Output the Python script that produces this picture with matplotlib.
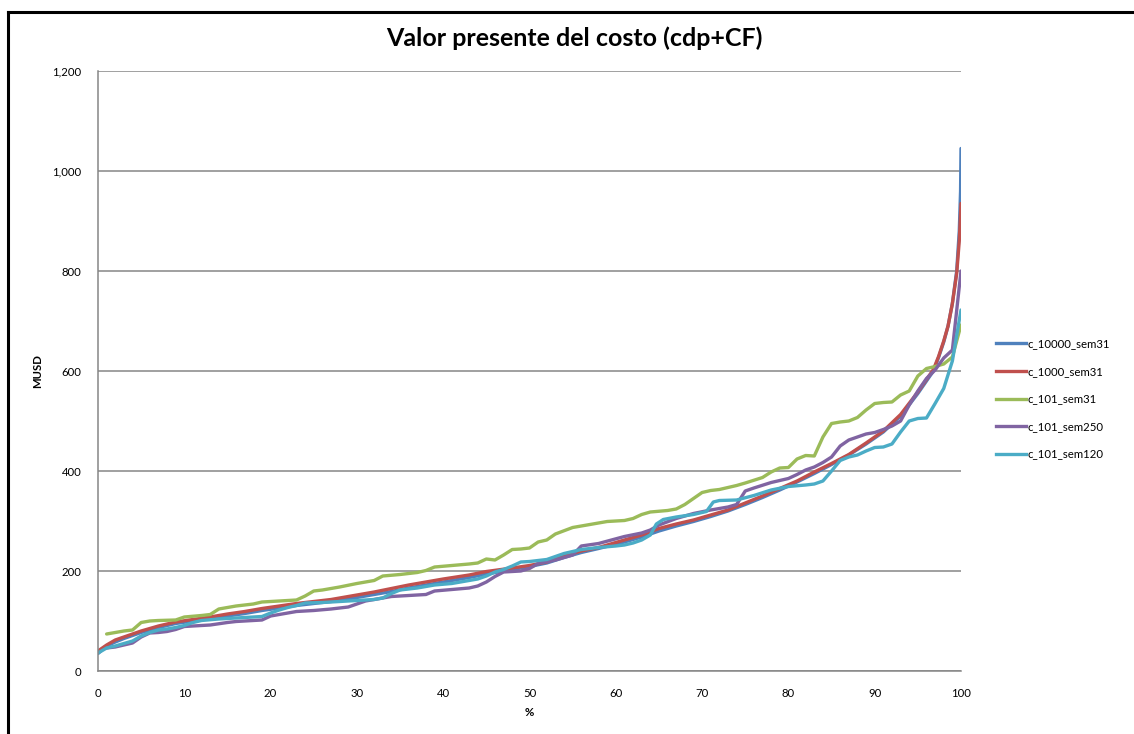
import matplotlib
matplotlib.use("Agg")
import matplotlib.pyplot as plt
from matplotlib.lines import Line2D

plt.rcParams['font.family'] = ['Lato', 'DejaVu Sans']

title = "Valor presente del costo (cdp+CF)"
x_label = "%"
y_label = "MUSD"
x_ticks = [0, 10, 20, 30, 40, 50, 60, 70, 80, 90, 100]
y_ticks = [0, 200, 400, 600, 800, 1000, 1200]
y_tick_labels = ["0", "200", "400", "600", "800", "1,000", "1,200"]

labels = ["c_10000_sem31", "c_1000_sem31", "c_101_sem31", "c_101_sem250", "c_101_sem120"]
colors = ["#4F81BD", "#C0504D", "#9BBB59", "#8064A2", "#4BACC6"]

blue_x = [0, 1, 2, 3, 5, 7, 9, 11, 13, 15, 17, 19, 21, 23, 25, 27, 30, 32, 34, 36, 38, 40, 43, 45, 48, 50,
          52, 54, 56, 58, 61, 63, 65, 67, 69, 71, 73, 75, 77, 79, 81, 83, 85, 87, 89, 91, 93, 95, 96.8,
          97.4, 98, 98.5, 99, 99.5, 99.8, 99.95, 100]
blue_y = [35, 50, 58, 65, 77, 87, 95, 100, 105, 110, 115, 121, 126, 131, 135, 139, 147, 153, 159, 166, 172,
          178, 187, 194, 203, 209, 216, 227, 237, 245, 258, 268, 280, 290, 299, 309, 320, 333, 347, 362, 378,
          395, 413, 432, 454, 478, 510, 555, 600, 627, 658, 690, 735, 800, 880, 960, 1045]

red_x = [0, 1, 2, 3, 5, 7, 9, 11, 13, 15, 17, 19, 21, 23, 25, 27, 30, 32, 34, 36, 38, 40, 43, 45, 48, 50,
         52, 54, 56, 58, 61, 63, 65, 67, 69, 71, 73, 75, 77, 79, 81, 83, 85, 87, 89, 91, 93, 95, 96.8,
         97.4, 98, 98.5, 99, 99.5, 99.8, 100]
red_y = [40, 52, 62, 68, 80, 90, 98, 103, 108, 114, 119, 125, 130, 135, 139, 143, 152, 158, 165, 172, 178,
         184, 192, 199, 206, 211, 218, 230, 240, 247, 262, 272, 285, 294, 302, 312, 322, 336, 350, 365, 380,
         398, 415, 433, 456, 480, 513, 558, 603, 629, 660, 690, 735, 795, 860, 935]

green_x = [1, 2, 3, 4, 5, 6, 7, 9, 10, 12, 13, 14, 16, 18, 19, 21, 23, 24, 25, 26, 27, 28, 30, 32, 33, 35,
           37, 38, 39, 41, 43, 44, 45, 46, 47, 48, 49, 50, 51, 52, 53, 55, 56, 57, 59, 61, 62, 63, 64, 66,
           67, 68, 69, 70, 71, 72, 74, 75, 77, 78, 79, 80, 81, 82, 83, 84, 85, 86, 87, 88, 89, 90, 91, 92,
           93, 94, 95, 96, 97, 98, 99, 100]
green_y = [74, 77, 80, 82, 97, 100, 101, 102, 108, 111, 113, 124, 130, 134, 138, 140, 142, 150, 160, 162,
           165, 168, 175, 181, 190, 193, 197, 201, 208, 211, 214, 216, 224, 222, 232, 243, 244, 246, 258,
           262, 274, 287, 290, 293, 299, 301, 305, 313, 318, 321, 324, 333, 345, 357, 361, 363, 371, 376,
           387, 398, 406, 407, 424, 431, 430, 468, 495, 498, 500, 507, 522, 535, 537, 538, 552, 560, 590,
           605, 609, 614, 628, 692]

purple_x = [1, 2, 3, 4, 5, 6, 7, 8, 9, 10, 11, 13, 15, 16, 18, 19, 20, 21, 23, 25, 27, 29, 31, 32, 34, 36,
            38, 39, 41, 43, 44, 45, 46, 47, 48, 49, 50, 51, 53, 55, 56, 58, 61, 63, 64, 65, 67, 69, 71, 73,
            74, 75, 76, 78, 80, 81, 82, 83, 84, 85, 86, 87, 88, 89, 90, 91, 92, 93, 94, 95, 96, 97, 98, 99,
            100]
purple_y = [46, 48, 52, 56, 68, 76, 77, 79, 83, 89, 90, 92, 97, 99, 101, 102, 110, 113, 119, 121, 124, 128,
            140, 143, 149, 151, 153, 160, 163, 166, 170, 178, 189, 198, 199, 200, 205, 215, 222, 232, 250,
            255, 269, 276, 282, 292, 305, 315, 322, 328, 333, 360, 366, 377, 385, 393, 402, 408, 417, 428,
            450, 462, 468, 474, 477, 483, 490, 500, 532, 560, 585, 602, 626, 642, 800]

cyan_x = [0, 1, 2, 3, 4, 5, 6, 7, 8, 9, 10, 11, 12, 14, 16, 18, 19, 20, 21, 22, 23, 24, 26, 28, 30, 32, 33,
          34, 35, 37, 39, 41, 43, 44, 45, 46, 47, 48, 49, 50, 52, 54, 56, 58, 60, 61, 62, 63, 64, 64.7,
          65.5, 67, 69, 70.5, 71.3, 72, 74, 76, 78, 80, 82, 83, 84, 85, 86, 87, 88, 89, 90, 91, 92, 93, 94,
          95, 96, 97, 98, 99, 100]
cyan_y = [36, 46, 50, 55, 60, 70, 77, 82, 84, 87, 91, 97, 101, 104, 106, 108, 109, 116, 122, 127, 131, 136,
          137, 139, 141, 143, 146, 155, 162, 166, 172, 175, 181, 184, 190, 198, 203, 210, 218, 219, 223,
          235, 243, 247, 250, 252, 256, 262, 272, 294, 303, 308, 313, 319, 338, 341, 342, 351, 362, 369,
          372, 374, 380, 400, 421, 428, 432, 440, 447, 448, 454, 478, 500, 505, 506, 535, 565, 620, 722]

series_x = [blue_x, red_x, green_x, purple_x, cyan_x]
series_y = [blue_y, red_y, green_y, purple_y, cyan_y]

W, H = 1134, 734
fig = plt.figure(figsize=(W / 100, H / 100), dpi=100)
fig.patch.set_facecolor("white")

left, right, top, bottom = 98, 961, 71, 671
ax = fig.add_axes([left / W, (H - bottom) / H, (right - left) / W, (bottom - top) / H])

for xs, ys, c, lab in zip(series_x, series_y, colors, labels):
    ax.plot(xs, ys, color=c, lw=2.4, label=lab, solid_joinstyle="round", solid_capstyle="round")

ax.set_xlim(0, 100)
ax.set_ylim(0, 1200)
ax.set_xticks(x_ticks)
ax.set_yticks(y_ticks)
ax.set_yticklabels(y_tick_labels)
ax.tick_params(axis="both", length=0, labelsize=8.2, colors="#000000")
ax.tick_params(axis="x", pad=12)
ax.tick_params(axis="y", pad=12)
ax.grid(axis="y", color="#868686", lw=1.1)
ax.set_axisbelow(True)
for s in ["top", "right"]:
    ax.spines[s].set_visible(False)
for s in ["left", "bottom"]:
    ax.spines[s].set_color("#868686")
    ax.spines[s].set_linewidth(1.1)

fig.text(574 / W, 1 - 38 / H, title, ha="center", va="center", fontsize=18, fontweight="bold")
fig.text(529 / W, 1 - 713 / H, x_label, ha="center", va="center", fontsize=8.2, fontweight="bold")
fig.text(38 / W, 1 - 371 / H, y_label, ha="center", va="center", fontsize=8.2, fontweight="bold", rotation=90)

handles = [Line2D([0], [0], color=c, lw=2.4) for c in colors]
fig.legend(handles, labels, loc="center left", bbox_to_anchor=(996 / W, 1 - 399 / H),
           frameon=False, fontsize=8.2, handlelength=2.6, handletextpad=0.15, labelspacing=1.45,
           borderaxespad=0, borderpad=0)

# chart frame (top and left edges visible)
fig.add_artist(Line2D([8 / W, 1.0], [1 - 12 / H, 1 - 12 / H], color="black", lw=2.2, transform=fig.transFigure))
fig.add_artist(Line2D([8 / W, 8 / W], [1 - 12 / H, 0], color="black", lw=2.2, transform=fig.transFigure))

fig.savefig("out.png", dpi=100)
